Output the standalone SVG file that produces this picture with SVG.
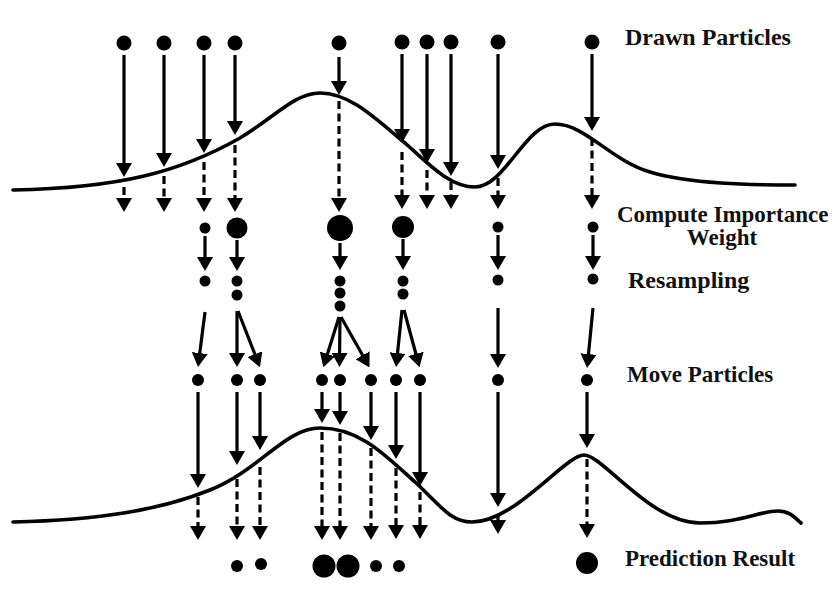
<svg xmlns="http://www.w3.org/2000/svg" width="834" height="612" viewBox="0 0 834 612">
<style>
.bg{fill:#fff}
.dot{fill:#000}
.s{stroke:#000;stroke-width:3.2;fill:none;marker-end:url(#ah)}
.d{stroke:#000;stroke-width:3.2;fill:none;stroke-dasharray:8 4.5;marker-end:url(#ah)}
.curve{stroke:#000;stroke-width:3.6;fill:none;stroke-linecap:round}
.lbl{font-family:"Liberation Serif","Times New Roman",serif;font-weight:bold;font-size:23px;fill:#111}
</style>
<defs>
<marker id="ah" markerUnits="userSpaceOnUse" viewBox="0 0 14 16" markerWidth="14" markerHeight="16" refX="10" refY="8" orient="auto">
<path d="M0,0 L14,8 L0,16 z" fill="#000"/>
</marker>
</defs>
<rect class="bg" x="0" y="0" width="834" height="612"/>

<g id="likelihood-curves">
<path class="curve" d="M13,190 C120,188 180,172 240,138 C275,117 295,93 320,93 C350,93 375,118 405,143 C430,165 450,187 475,187 C505,187 525,124 555,124 C585,124 610,160 650,172 C690,184 750,185 795,185"/>
<path class="curve" d="M13,522 C100,520 160,510 210,490 C260,470 285,428 320,428 C360,428 385,455 415,482 C440,505 450,522 472,522 C515,522 565,455 584,455 C603,455 650,523 700,523 C740,523 760,511 778,511 C790,511 795,518 801,523"/>
</g>

<g id="drawn-particles">
<circle class="dot" cx="124" cy="43" r="7.5"/>
<circle class="dot" cx="164" cy="43" r="7.5"/>
<circle class="dot" cx="204" cy="43" r="7.5"/>
<circle class="dot" cx="235" cy="43" r="7.5"/>
<circle class="dot" cx="339" cy="43" r="7.5"/>
<circle class="dot" cx="402" cy="42" r="7.5"/>
<circle class="dot" cx="427" cy="42" r="7.5"/>
<circle class="dot" cx="451" cy="42" r="7.5"/>
<circle class="dot" cx="498" cy="42" r="7.5"/>
<circle class="dot" cx="592" cy="42" r="7.5"/>
</g>

<g id="importance-weights">
<circle class="dot" cx="205" cy="228" r="5.5"/>
<circle class="dot" cx="237" cy="228" r="10.5"/>
<circle class="dot" cx="340" cy="228" r="13"/>
<circle class="dot" cx="403" cy="227" r="11"/>
<circle class="dot" cx="498" cy="227" r="5.5"/>
<circle class="dot" cx="593" cy="227" r="5.5"/>
</g>

<g id="resampled">
<circle class="dot" cx="205" cy="281" r="5.5"/>
<circle class="dot" cx="237" cy="281" r="5.5"/>
<circle class="dot" cx="237" cy="295" r="5.5"/>
<circle class="dot" cx="340" cy="281" r="5.5"/>
<circle class="dot" cx="340" cy="293" r="5.5"/>
<circle class="dot" cx="340" cy="306" r="5.5"/>
<circle class="dot" cx="403" cy="281" r="5.5"/>
<circle class="dot" cx="403" cy="294" r="5.5"/>
<circle class="dot" cx="498" cy="280" r="5.5"/>
<circle class="dot" cx="593" cy="279" r="5.5"/>
</g>

<g id="moved">
<circle class="dot" cx="198" cy="380" r="6"/>
<circle class="dot" cx="237" cy="380" r="6"/>
<circle class="dot" cx="260" cy="380" r="6"/>
<circle class="dot" cx="322" cy="380" r="6"/>
<circle class="dot" cx="340" cy="380" r="6"/>
<circle class="dot" cx="371" cy="380" r="6"/>
<circle class="dot" cx="396" cy="380" r="6"/>
<circle class="dot" cx="420" cy="380" r="6"/>
<circle class="dot" cx="498" cy="380" r="6"/>
<circle class="dot" cx="587" cy="380" r="6"/>
</g>

<g id="prediction">
<circle class="dot" cx="237" cy="566" r="6"/>
<circle class="dot" cx="261" cy="564" r="6"/>
<circle class="dot" cx="324" cy="566" r="11.5"/>
<circle class="dot" cx="348" cy="566" r="11.5"/>
<circle class="dot" cx="376" cy="566" r="6"/>
<circle class="dot" cx="399" cy="566" r="6"/>
<circle class="dot" cx="587" cy="563" r="11"/>
</g>

<g id="connectors">
<!-- drawn particles to likelihood -->
<line class="s" x1="124" y1="55" x2="124" y2="173"/>
<line class="s" x1="164" y1="55" x2="164" y2="163"/>
<line class="s" x1="204" y1="55" x2="204" y2="149"/>
<line class="s" x1="235" y1="55" x2="235" y2="131"/>
<line class="s" x1="339" y1="57" x2="339" y2="91"/>
<line class="s" x1="402" y1="54" x2="402" y2="139"/>
<line class="s" x1="427" y1="54" x2="427" y2="159"/>
<line class="s" x1="451" y1="54" x2="451" y2="172"/>
<line class="s" x1="498" y1="54" x2="498" y2="165"/>
<line class="s" x1="592" y1="54" x2="592" y2="127"/>
<!-- dashed below first curve -->
<line class="d" x1="124" y1="187" x2="124" y2="208"/>
<line class="d" x1="164" y1="176" x2="164" y2="208"/>
<line class="d" x1="204" y1="162" x2="204" y2="208"/>
<line class="d" x1="235" y1="145" x2="235" y2="208"/>
<line class="d" x1="339" y1="101" x2="339" y2="208"/>
<line class="d" x1="402" y1="152" x2="402" y2="205"/>
<line class="d" x1="427" y1="170" x2="427" y2="205"/>
<line class="d" x1="451" y1="182" x2="451" y2="205"/>
<line class="d" x1="498" y1="178" x2="498" y2="205"/>
<line class="d" x1="592" y1="138" x2="592" y2="205"/>
<!-- weights to resampling -->
<line class="s" x1="205" y1="236" x2="205" y2="267"/>
<line class="s" x1="237" y1="240" x2="237" y2="267"/>
<line class="s" x1="340" y1="243" x2="340" y2="266"/>
<line class="s" x1="403" y1="239" x2="403" y2="266"/>
<line class="s" x1="498" y1="235" x2="498" y2="266"/>
<line class="s" x1="593" y1="235" x2="593" y2="266"/>
<!-- resampling to move -->
<line class="s" x1="205" y1="312" x2="198.5" y2="363"/>
<line class="s" x1="237" y1="311" x2="237" y2="363"/>
<line class="s" x1="238" y1="311" x2="258.5" y2="363.5"/>
<line class="s" x1="339" y1="317" x2="324.5" y2="363.5"/>
<line class="s" x1="340" y1="317" x2="339.5" y2="363"/>
<line class="s" x1="341" y1="317" x2="367.5" y2="364"/>
<line class="s" x1="402" y1="310" x2="396.5" y2="363"/>
<line class="s" x1="404" y1="310" x2="418.5" y2="363.5"/>
<line class="s" x1="498" y1="308" x2="498" y2="364"/>
<line class="s" x1="593" y1="308" x2="587.5" y2="364"/>
<!-- move to second curve -->
<line class="s" x1="198" y1="392" x2="198" y2="484"/>
<line class="s" x1="237" y1="392" x2="237" y2="461"/>
<line class="s" x1="260" y1="392" x2="260" y2="446"/>
<line class="s" x1="322" y1="392" x2="322" y2="419"/>
<line class="s" x1="340" y1="392" x2="340" y2="421"/>
<line class="s" x1="371" y1="392" x2="371" y2="436"/>
<line class="s" x1="396" y1="392" x2="396" y2="455"/>
<line class="s" x1="420" y1="392" x2="420" y2="482"/>
<line class="s" x1="498" y1="392" x2="498" y2="503"/>
<line class="s" x1="587" y1="392" x2="587" y2="444"/>
<!-- dashed below second curve -->
<line class="d" x1="198" y1="497" x2="198" y2="536"/>
<line class="d" x1="237" y1="479" x2="237" y2="536"/>
<line class="d" x1="260" y1="467" x2="260" y2="536"/>
<line class="d" x1="322" y1="432" x2="322" y2="536"/>
<line class="d" x1="340" y1="433" x2="340" y2="536"/>
<line class="d" x1="371" y1="448" x2="371" y2="536"/>
<line class="d" x1="396" y1="468" x2="396" y2="535"/>
<line class="d" x1="420" y1="492" x2="420" y2="535"/>
<line class="d" x1="498" y1="516" x2="498" y2="530"/>
<line class="d" x1="587" y1="459" x2="587" y2="534"/>
</g>

<g id="labels">
<text class="lbl" x="625" y="45" style="font-size:24px">Drawn Particles</text>
<text class="lbl" x="617" y="222">Compute Importance</text>
<text class="lbl" x="722" y="245" text-anchor="middle">Weight</text>
<text class="lbl" x="628" y="288" style="font-size:24px">Resampling</text>
<text class="lbl" x="627" y="382">Move Particles</text>
<text class="lbl" x="625" y="566">Prediction Result</text>
</g>
</svg>
